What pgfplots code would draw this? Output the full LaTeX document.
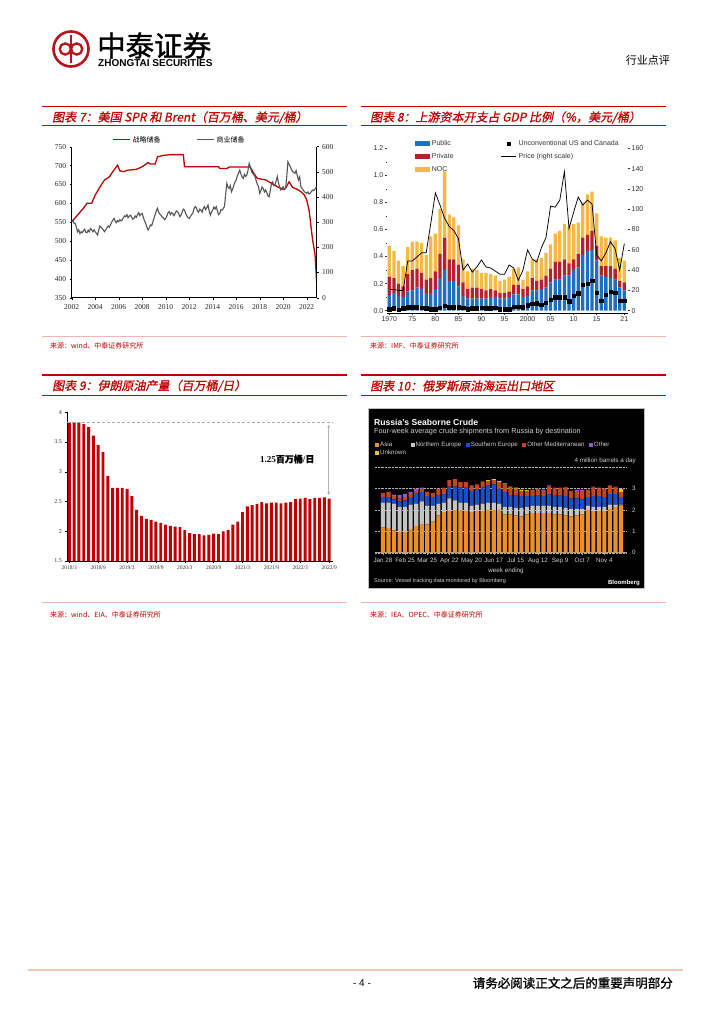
\documentclass[border=0pt]{standalone}
\usepackage{fontspec}
\setmainfont{Liberation Sans}
\newfontfamily\cjk{Noto Sans CJK SC}
\newfontfamily\cjkt[FakeSlant=0.2,FakeBold=0.8]{Noto Sans CJK SC}
\newfontfamily\cjkb[FakeBold=1.2]{Noto Sans CJK SC}
\newfontfamily\tms{Liberation Serif}
\usepackage{pgfplots}
\usepackage{pgfplotstable}
\pgfplotsset{compat=1.18,/pgf/number format/assume math mode=true}
\usetikzlibrary{arrows.meta}
\definecolor{ztred}{HTML}{C00000}
\definecolor{ztlogo}{HTML}{B8141C}
\definecolor{srcline}{HTML}{F0B4B4}
\definecolor{footline}{HTML}{F0C8B2}
\definecolor{grayline}{HTML}{555555}
\definecolor{pubblue}{HTML}{1F6EC0}
\definecolor{privred}{HTML}{B5202E}
\definecolor{nocyel}{HTML}{F4B942}
\definecolor{bAsia}{HTML}{E8902E}
\definecolor{bNE}{HTML}{C4C4C4}
\definecolor{bSE}{HTML}{1A4FC8}
\definecolor{bOM}{HTML}{C4461E}
\definecolor{bOth}{HTML}{9457C8}
\definecolor{bUnk}{HTML}{E3C52B}
\definecolor{bText}{HTML}{D0D0D0}
\newcommand{\fs}[1]{\fontsize{#1}{#1}\selectfont}

\pgfplotstableread[row sep=\\]{
t v\\
2002.0 551\\ 2002.5 569\\ 2003.0 587\\ 2003.3 600\\ 2003.7 600\\ 2004.0 622\\ 2004.5 648\\ 2004.8 662\\
2005.2 670\\ 2005.5 684\\ 2005.8 697\\ 2005.9 701\\ 2006.1 686\\ 2006.4 684\\ 2006.8 688\\ 2007.5 690\\
2008.0 697\\ 2008.5 708\\ 2008.7 704\\ 2009.1 704\\ 2009.3 723\\ 2009.8 727\\ 2010.5 729\\ 2011.5 729\\
2011.6 697\\ 2014.5 697\\ 2014.6 692\\ 2015.2 692\\ 2015.4 696\\ 2017.2 696\\ 2017.5 679\\ 2017.8 666\\
2018.5 662\\ 2019.0 653\\ 2019.5 644\\ 2020.0 637\\ 2020.2 640\\ 2020.5 657\\ 2020.8 642\\ 2021.2 637\\
2021.5 631\\ 2021.8 622\\ 2022.0 609\\ 2022.2 582\\ 2022.5 503\\ 2022.7 467\\ 2022.85 390\\
}\spr

\pgfplotstableread[row sep=\\]{
t v\\
2002.0 302\\ 2002.1 308\\ 2002.2 296\\ 2002.3 295\\ 2002.4 280\\ 2002.5 262\\ 2002.6 270\\ 2002.7 255\\ 2002.8 262\\ 2002.9 258\\
2003.0 266\\ 2003.1 272\\ 2003.2 260\\ 2003.3 258\\ 2003.4 268\\ 2003.5 262\\ 2003.6 275\\ 2003.7 270\\ 2003.8 262\\ 2003.9 270\\
2004.0 262\\ 2004.1 256\\ 2004.2 249\\ 2004.3 268\\ 2004.4 285\\ 2004.5 280\\ 2004.6 275\\ 2004.7 268\\ 2004.8 262\\ 2004.9 270\\
2005.0 278\\ 2005.1 285\\ 2005.2 280\\ 2005.3 289\\ 2005.4 300\\ 2005.5 308\\ 2005.6 315\\ 2005.7 305\\ 2005.8 298\\ 2005.9 306\\
2006.0 302\\ 2006.1 310\\ 2006.2 305\\ 2006.3 309\\ 2006.4 318\\ 2006.5 325\\ 2006.6 322\\ 2006.7 330\\ 2006.8 318\\ 2006.9 324\\
2007.0 328\\ 2007.1 320\\ 2007.2 312\\ 2007.3 315\\ 2007.4 325\\ 2007.5 319\\ 2007.6 330\\ 2007.7 338\\ 2007.8 326\\ 2007.9 332\\
2008.0 335\\ 2008.1 318\\ 2008.2 305\\ 2008.3 295\\ 2008.4 280\\ 2008.5 269\\ 2008.6 278\\ 2008.7 289\\ 2008.8 286\\ 2008.9 300\\
2009.0 315\\ 2009.1 330\\ 2009.2 345\\ 2009.3 355\\ 2009.4 340\\ 2009.5 332\\ 2009.6 328\\ 2009.7 320\\ 2009.8 318\\ 2009.9 310\\
2010.0 315\\ 2010.1 325\\ 2010.2 338\\ 2010.3 342\\ 2010.4 330\\ 2010.5 338\\ 2010.6 335\\ 2010.7 326\\ 2010.8 335\\ 2010.9 345\\
2011.0 342\\ 2011.1 335\\ 2011.2 322\\ 2011.3 328\\ 2011.4 340\\ 2011.5 352\\ 2011.6 348\\ 2011.7 335\\ 2011.8 325\\ 2011.9 318\\
2012.0 315\\ 2012.1 322\\ 2012.2 330\\ 2012.3 335\\ 2012.4 352\\ 2012.5 362\\ 2012.6 358\\ 2012.7 345\\ 2012.8 340\\ 2012.9 352\\
2013.0 348\\ 2013.1 340\\ 2013.2 355\\ 2013.3 362\\ 2013.4 350\\ 2013.5 358\\ 2013.6 368\\ 2013.7 345\\ 2013.8 328\\ 2013.9 340\\
2014.0 348\\ 2014.1 360\\ 2014.2 352\\ 2014.3 362\\ 2014.4 345\\ 2014.5 330\\ 2014.6 335\\ 2014.7 350\\ 2014.8 348\\ 2014.9 355\\
2015.0 362\\ 2015.1 410\\ 2015.2 454\\ 2015.3 440\\ 2015.4 434\\ 2015.5 445\\ 2015.6 421\\ 2015.7 432\\ 2015.8 448\\ 2015.9 460\\
2016.0 468\\ 2016.1 485\\ 2016.2 495\\ 2016.3 507\\ 2016.4 492\\ 2016.5 480\\ 2016.6 474\\ 2016.7 490\\ 2016.8 482\\ 2016.9 487\\
2017.0 505\\ 2017.1 534\\ 2017.2 520\\ 2017.3 501\\ 2017.4 495\\ 2017.5 488\\ 2017.6 481\\ 2017.7 465\\ 2017.8 450\\ 2017.9 441\\
2018.0 415\\ 2018.1 425\\ 2018.2 440\\ 2018.3 434\\ 2018.4 420\\ 2018.5 428\\ 2018.6 418\\ 2018.7 405\\ 2018.8 401\\ 2018.9 425\\
2019.0 454\\ 2019.1 460\\ 2019.2 445\\ 2019.3 448\\ 2019.4 465\\ 2019.5 481\\ 2019.6 455\\ 2019.7 440\\ 2019.8 428\\ 2019.9 435\\
2020.0 441\\ 2020.1 430\\ 2020.2 434\\ 2020.3 480\\ 2020.4 540\\ 2020.5 530\\ 2020.6 521\\ 2020.7 510\\ 2020.8 501\\ 2020.9 498\\
2021.0 494\\ 2021.1 505\\ 2021.2 485\\ 2021.3 468\\ 2021.4 480\\ 2021.5 441\\ 2021.6 435\\ 2021.7 428\\ 2021.8 421\\ 2021.9 418\\
2022.0 415\\ 2022.1 420\\ 2022.2 412\\ 2022.3 415\\ 2022.4 422\\ 2022.5 428\\ 2022.6 425\\ 2022.7 432\\ 2022.8 438\\ 2022.85 441\\
}\brent

\pgfplotstableread{
year pub priv noc unc price
1970 0.115 0.135 0.23 0.010 21
1971 0.13 0.11 0.20 0.017 21
1972 0.11 0.09 0.17 0.008 20
1973 0.10 0.08 0.15 0.017 20
1974 0.14 0.13 0.20 0.025 49
1975 0.15 0.15 0.21 0.025 49
1976 0.17 0.14 0.20 0.025 53
1977 0.16 0.12 0.22 0.020 57
1978 0.13 0.10 0.18 0.017 57
1979 0.13 0.11 0.31 0.010 86
1980 0.16 0.13 0.28 0.012 116
1981 0.24 0.18 0.33 0.020 104
1982 0.30 0.24 0.49 0.035 91
1983 0.22 0.16 0.33 0.027 83
1984 0.22 0.16 0.31 0.025 79
1985 0.18 0.16 0.29 0.025 71
1986 0.11 0.10 0.17 0.020 40
1987 0.09 0.07 0.13 0.012 46
1988 0.09 0.08 0.14 0.017 38
1989 0.09 0.08 0.13 0.017 43
1990 0.09 0.07 0.12 0.020 50
1991 0.09 0.06 0.13 0.017 43
1992 0.10 0.06 0.11 0.017 42
1993 0.10 0.05 0.11 0.020 39
1994 0.09 0.04 0.09 0.010 36
1995 0.09 0.04 0.10 0.010 36
1996 0.10 0.04 0.11 0.010 45
1997 0.12 0.07 0.12 0.030 42
1998 0.12 0.07 0.13 0.030 30
1999 0.10 0.06 0.07 0.025 40
2000 0.11 0.07 0.11 0.040 60
2001 0.15 0.09 0.14 0.050 51
2002 0.15 0.07 0.16 0.055 48
2003 0.16 0.07 0.16 0.045 62
2004 0.17 0.09 0.17 0.060 72
2005 0.21 0.10 0.18 0.080 103
2006 0.23 0.13 0.21 0.100 102
2007 0.23 0.13 0.23 0.100 109
2008 0.26 0.12 0.26 0.100 137
2009 0.26 0.09 0.27 0.070 81
2010 0.30 0.08 0.26 0.110 97
2011 0.32 0.10 0.23 0.130 112
2012 0.41 0.13 0.26 0.190 104
2013 0.44 0.12 0.30 0.200 109
2014 0.45 0.14 0.29 0.220 105
2015 0.37 0.11 0.24 0.135 55
2016 0.26 0.07 0.22 0.074 49
2017 0.25 0.08 0.21 0.116 57
2018 0.24 0.09 0.21 0.140 68
2019 0.23 0.08 0.21 0.135 61
2020 0.17 0.05 0.17 0.074 40
2021 0.15 0.06 0.16 0.074 66
}\capex

\pgfplotstableread[row sep=\\]{
i v\\
0 3.83\\ 1 3.83\\ 2 3.83\\ 3 3.80\\ 4 3.75\\ 5 3.61\\ 6 3.45\\ 7 3.33\\ 8 2.93\\ 9 2.73\\
10 2.73\\ 11 2.73\\ 12 2.71\\ 13 2.59\\ 14 2.36\\ 15 2.26\\ 16 2.21\\ 17 2.19\\ 18 2.16\\ 19 2.14\\
20 2.11\\ 21 2.09\\ 22 2.08\\ 23 2.07\\ 24 2.02\\ 25 1.97\\ 26 1.95\\ 27 1.95\\ 28 1.93\\ 29 1.94\\
30 1.96\\ 31 1.95\\ 32 2.00\\ 33 2.02\\ 34 2.11\\ 35 2.16\\ 36 2.32\\ 37 2.42\\ 38 2.44\\ 39 2.46\\
40 2.49\\ 41 2.47\\ 42 2.48\\ 43 2.48\\ 44 2.47\\ 45 2.48\\ 46 2.49\\ 47 2.54\\ 48 2.55\\ 49 2.56\\
50 2.54\\ 51 2.56\\ 52 2.56\\ 53 2.57\\ 54 2.55\\
}\iran

\pgfplotstableread{
i asia ne se om oth unk
0 1.17 1.18 0.26 0.19 0 0
1 1.15 1.20 0.25 0.25 0 0
2 1.05 1.25 0.20 0.15 0.07 0
3 0.97 1.18 0.25 0.15 0.15 0
4 0.98 1.17 0.30 0.15 0.15 0
5 1.10 1.15 0.35 0.15 0.10 0
6 1.25 1.05 0.50 0.10 0.10 0
7 1.35 1.05 0.45 0.15 0.05 0
8 1.33 0.87 0.45 0.20 0 0
9 1.45 0.75 0.40 0.20 0 0
10 1.75 0.55 0.40 0.30 0 0
11 1.90 0.45 0.40 0.30 0 0
12 1.95 0.60 0.55 0.30 0 0
13 2.00 0.45 0.65 0.35 0 0
14 2.00 0.35 0.70 0.25 0 0
15 1.95 0.40 0.70 0.25 0 0
16 1.90 0.30 0.70 0.25 0 0
17 1.95 0.30 0.70 0.25 0 0
18 1.95 0.35 0.75 0.25 0 0.03
19 2.00 0.35 0.80 0.20 0 0.05
20 2.00 0.35 0.85 0.20 0 0.05
21 2.00 0.30 0.70 0.30 0 0.05
22 1.80 0.35 0.70 0.35 0 0.05
23 1.80 0.35 0.55 0.35 0 0.05
24 1.75 0.35 0.60 0.30 0 0.05
25 1.70 0.40 0.55 0.25 0 0.05
26 1.80 0.35 0.50 0.25 0 0.03
27 1.85 0.35 0.45 0.30 0 0
28 1.85 0.35 0.50 0.30 0 0
29 1.85 0.35 0.45 0.25 0.05 0
30 1.85 0.35 0.55 0.35 0.05 0
31 1.80 0.35 0.55 0.35 0 0
32 1.80 0.35 0.55 0.35 0 0
33 1.75 0.35 0.55 0.40 0.03 0
34 1.70 0.35 0.50 0.35 0 0
35 1.75 0.30 0.50 0.35 0.05 0
36 1.80 0.25 0.45 0.40 0.05 0
37 2.00 0.20 0.40 0.35 0 0
38 1.95 0.20 0.50 0.40 0.05 0
39 1.95 0.20 0.50 0.35 0.05 0
40 1.95 0.20 0.45 0.40 0 0
41 2.05 0.20 0.50 0.40 0 0
42 2.15 0.10 0.50 0.30 0.05 0
43 2.20 0.05 0.35 0.25 0 0.13
}\russia

\begin{document}
\begin{tikzpicture}[x=1pt,y=1pt]
\useasboundingbox (0pt,0pt) rectangle (724pt,-1024pt);
\fill[white] (0pt,0pt) rectangle (724pt,-1024pt);

% ---------- header ----------
\draw[ztlogo, line width=2.6pt] (71,-49) circle (17.5pt);
\draw[ztlogo, line width=2.3pt] (71,-35) -- (71,-63);
\draw[ztlogo, line width=2.3pt] (65.3,-49) circle (5.6pt);
\draw[ztlogo, line width=2.3pt] (76.7,-49) circle (5.6pt);
\node[anchor=west, inner sep=0, font=\cjkb\fs{28.5}] at (97,-45.5) {中泰证券};
\node[anchor=west, inner sep=0, font=\bfseries\fs{10}] at (98,-63.5) {ZHONGTAI SECURITIES};
\node[anchor=east, inner sep=0, font=\cjk\fs{11}] at (670,-60) {行业点评};

% ---------- panel titles ----------
\draw[ztred, line width=1.2pt] (42,-106.7) -- (347,-106.7);
\node[anchor=west, inner sep=0, text=ztred, font=\cjkt\fs{12}] at (52,-117.5) {图表 7：美国 SPR 和 Brent（百万桶、美元/桶）};
\draw[ztred, line width=0.6pt] (42,-125.5) -- (347,-125.5);

\draw[ztred, line width=1.2pt] (361,-106.7) -- (666,-106.7);
\node[anchor=west, inner sep=0, text=ztred, font=\cjkt\fs{12}] at (370,-117.5) {图表 8：上游资本开支占 GDP 比例（\%，美元/桶）};
\draw[ztred, line width=0.6pt] (361,-125.5) -- (666,-125.5);

\draw[ztred, line width=1.2pt] (42,-375) -- (347,-375);
\node[anchor=west, inner sep=0, text=ztred, font=\cjkt\fs{12}] at (52,-386) {图表 9：伊朗原油产量（百万桶/日）};
\draw[ztred, line width=0.6pt] (42,-395) -- (347,-395);

\draw[ztred, line width=1.2pt] (361,-375) -- (666,-375);
\node[anchor=west, inner sep=0, text=ztred, font=\cjkt\fs{12}] at (370,-386) {图表 10：俄罗斯原油海运出口地区};
\draw[ztred, line width=0.6pt] (361,-395) -- (666,-395);

% ---------- sources ----------
\draw[srcline, line width=0.8pt] (42,-336) -- (347,-336);
\node[anchor=west, inner sep=0, text=ztred, font=\cjk\fs{7}] at (50,-346) {来源：wind、中泰证券研究所};
\draw[srcline, line width=0.8pt] (361,-336) -- (666,-336);
\node[anchor=west, inner sep=0, text=ztred, font=\cjk\fs{7}] at (370,-346) {来源：IMF、中泰证券研究所};
\draw[srcline, line width=0.8pt] (42,-602.5) -- (347,-602.5);
\node[anchor=west, inner sep=0, text=ztred, font=\cjk\fs{7}] at (50,-615) {来源：wind、EIA、中泰证券研究所};
\draw[srcline, line width=0.8pt] (361,-602.5) -- (666,-602.5);
\node[anchor=west, inner sep=0, text=ztred, font=\cjk\fs{7}] at (370,-615) {来源：IEA、OPEC、中泰证券研究所};

% ---------- footer ----------
\draw[footline, line width=1.3pt] (28,-970) -- (683,-970);
\node[inner sep=0, font=\fs{10}] at (362,-983) {- 4 -};
\node[anchor=east, inner sep=0, font=\cjkb\fs{12.5}] at (673,-983) {请务必阅读正文之后的重要声明部分};

% ================= Chart 7 =================
\begin{axis}[
  at={(71.7pt,-297.7pt)}, anchor=south west, scale only axis,
  width=245pt, height=151pt,
  xmin=2002, xmax=2022.85, ymin=350, ymax=750, enlargelimits=false,
  axis x line*=bottom, axis y line*=left,
  axis line style={black, line width=0.5pt},
  xtick={2002,2004,...,2022}, ytick={350,400,...,750},
  tick align=outside, major tick length=2pt, tick style={black, line width=0.4pt},
  tick label style={font=\tms\fs{7.5}, text=black!85},
  xticklabel style={yshift=-1.5pt},
  /pgf/number format/1000 sep={},
  legend columns=2,
  legend style={at={(0.44,1)}, anchor=south, draw=none, fill=none, font=\cjk\fs{7}, inner sep=1pt,
    /tikz/every even column/.append style={column sep=34pt}},
  legend image code/.code={\draw[#1] (0pt,0pt) -- (17pt,0pt);},
]
\addplot[ztred, line width=1.3pt] table[x=t,y=v] \spr;
\addlegendentry{战略储备}
\addlegendimage{grayline, line width=1.1pt}
\addlegendentry{商业储备}
\end{axis}
\begin{axis}[
  at={(71.7pt,-297.7pt)}, anchor=south west, scale only axis,
  width=245pt, height=151pt,
  xmin=2002, xmax=2022.85, ymin=0, ymax=600, enlargelimits=false,
  axis y line*=right, axis x line=none,
  axis line style={black, line width=0.5pt},
  ytick={0,100,...,600},
  tick align=outside, major tick length=2pt, tick style={black, line width=0.4pt},
  tick label style={font=\tms\fs{7.5}, text=black!85},
]
\addplot[grayline, line width=1.1pt] table[x=t,y=v] \brent;
\end{axis}

% ================= Chart 8 =================
\begin{axis}[
  at={(387pt,-313.4pt)}, anchor=south west, scale only axis,
  width=241pt, height=165.1pt,
  xmin=1969.5, xmax=2021.8, ymin=-0.02, ymax=1.2, enlargelimits=false,
  ybar stacked, bar width=3.3pt,
  axis x line*=bottom, axis y line*=left,
  x axis line style={black, line width=0.6pt},
  y axis line style={draw=none},
  xtick={1970,1975,1980,1985,1990,1995,2000,2005,2010,2015,2021},
  xticklabels={1970,75,80,85,90,95,2000,05,10,15,21},
  ytick={0,0.2,0.4,0.6,0.8,1.0,1.2},
  yticklabels={0.0,0.2,0.4,0.6,0.8,1.0,1.2},
  minor ytick={0.1,0.3,0.5,0.7,0.9,1.1},
  tick align=outside, major tick length=2pt, minor tick length=0.8pt,
  tick style={black!80, line width=0.5pt},
  tick label style={font=\fs{7}, text=black!80, inner sep=1.5pt},
  legend style={at={(0.115,1.062)}, anchor=north west, draw=none, fill=none, font=\fs{7},
    inner sep=0pt, row sep=2.6pt, text=black!80},
  legend cell align=left,
  legend image code/.code={\fill[#1] (0pt,-2.4pt) rectangle (15pt,2.4pt);},
]
\addplot[fill=pubblue, draw=none] table[x=year,y=pub] \capex;
\addlegendentry{Public}
\addplot[fill=privred, draw=none] table[x=year,y=priv] \capex;
\addlegendentry{Private}
\addplot[fill=nocyel, draw=none] table[x=year,y=noc] \capex;
\addlegendentry{NOC}
\end{axis}
\begin{axis}[
  at={(387pt,-313.4pt)}, anchor=south west, scale only axis,
  width=241pt, height=165.1pt,
  xmin=1969.5, xmax=2021.8, ymin=-0.02, ymax=1.2, enlargelimits=false,
  hide axis,
]
\addplot[only marks, mark=square*, mark size=1.7pt, black] table[x=year,y=unc] \capex;
\end{axis}
\begin{axis}[
  at={(387pt,-313.4pt)}, anchor=south west, scale only axis,
  width=241pt, height=165.1pt,
  xmin=1969.5, xmax=2021.8, ymin=-2.667, ymax=160, enlargelimits=false,
  axis y line*=right, axis x line=none,
  y axis line style={draw=none},
  ytick={0,20,...,160},
  tick align=outside, major tick length=2pt,
  tick style={black!80, line width=0.5pt},
  tick label style={font=\fs{7}, text=black!80, inner sep=1.5pt},
  legend style={at={(0.472,1.062)}, anchor=north west, draw=none, fill=none, font=\fs{7},
    inner sep=0pt, row sep=2.6pt, text=black!80},
  legend cell align=left,
  legend image code/.code={\draw[mark repeat=2,mark phase=2,#1] plot coordinates {(0pt,0pt) (7.5pt,0pt) (15pt,0pt)};},
]
\addlegendimage{only marks, mark=square*, mark size=1.7pt, black}
\addlegendentry{Unconventional US and Canada}
\addplot[black, line width=0.75pt] table[x=year,y=price] \capex;
\addlegendentry{Price (right scale)}
\end{axis}

% ================= Chart 9 =================
\begin{axis}[
  at={(66.9pt,-561pt)}, anchor=south west, scale only axis,
  width=266.1pt, height=148.7pt,
  xmin=-0.5, xmax=54.8, ymin=1.5, ymax=4, enlargelimits=false,
  axis x line*=bottom, axis y line*=left,
  axis line style={black, line width=0.6pt},
  xtick={0,6,...,54},
  xticklabels={2018/3,2018/9,2019/3,2019/9,2020/3,2020/9,2021/3,2021/9,2022/3,2022/9},
  ytick={1.5,2,2.5,3,3.5,4}, yticklabels={1.5,2,2.5,3,3.5,4},
  tick align=outside, major tick length=1.5pt, tick style={black, line width=0.4pt},
  tick label style={font=\tms\fs{6}, text=black!80},
  xticklabel style={font=\tms\fs{5.5}},
  clip=false,
]
\addplot[ybar, bar width=2.9pt, bar shift=0pt, fill=ztred, draw=none] table[x=i,y=v] \iran;
\addplot[densely dashed, color=gray!70, line width=0.6pt] coordinates {(-0.5,3.83) (54.8,3.83)};
\draw[{Latex[length=3.5pt,width=3pt]}-{Latex[length=3.5pt,width=3pt]}, gray!60, line width=0.8pt] (axis cs:53.9,3.80) -- (axis cs:53.9,2.60);
\node[inner sep=0, font=\fs{9}] at (axis cs:45.3,3.215) {\tms\bfseries 1.25\cjkb 百万桶\tms\bfseries /\cjkb 日};
\end{axis}

% ================= Chart 10 =================
\fill[black, draw=gray!50, line width=0.5pt] (368.3,-408.3) rectangle (644,-588.3);
\node[anchor=west, inner sep=0, text=white, font=\bfseries\fs{8.6}] at (374,-422.5) {Russia's Seaborne Crude};
\node[anchor=west, inner sep=0, text=bText, font=\fs{7.3}] at (374,-431.5) {Four-week average crude shipments from Russia by destination};
\node[anchor=east, inner sep=0, text=bText, font=\fs{6.3}] at (636,-460.7) {4 million barrels a day};
\node[inner sep=0, text=bText, font=\fs{6.3}] at (506,-570.7) {week ending};
\node[anchor=west, inner sep=0, text=bText, font=\fs{5.5}] at (374,-580.7) {Source: Vessel tracking data monitored by Bloomberg};
\node[anchor=east, inner sep=0, text=white, font=\bfseries\fs{6}] at (640,-583) {Bloomberg};
\begin{axis}[
  at={(375pt,-552.7pt)}, anchor=south west, scale only axis,
  width=251.7pt, height=85.4pt,
  xmin=-1.445, xmax=44.03, ymin=0, ymax=4, enlargelimits=false,
  ybar stacked, bar width=4.1pt,
  axis x line*=bottom, axis y line*=right,
  x axis line style={color=gray!70, line width=0.5pt},
  y axis line style={draw=none},
  xtick={0,4,...,40},
  xticklabels={Jan 28,Feb 25,Mar 25,Apr 22,May 20,Jun 17,Jul 15,Aug 12,Sep 9,Oct 7,Nov 4},
  ytick={0,1,2,3,4}, yticklabels={0,1,2,3,{}},
  ymajorgrids, grid style={densely dotted, gray!60, line width=0.4pt},
  tick align=outside, major tick length=2pt,
  xtick style={gray!70, line width=0.4pt}, ytick style={draw=none},
  tick label style={font=\fs{6.3}, text=bText},
  legend columns=5,
  legend style={at={(0,1.314)}, anchor=north west, draw=none, fill=none, font=\fs{6.2},
    text=bText, inner sep=0pt, row sep=0.6pt, column sep=0pt,
    nodes={inner sep=1pt},
    /tikz/every even column/.append style={column sep=3.5pt}},
  legend cell align=left,
  legend image code/.code={\fill[#1] (0pt,-2pt) rectangle (4pt,2pt);},
]
\addplot[fill=bAsia, draw=none] table[x=i,y=asia] \russia;
\addlegendentry{Asia}
\addplot[fill=bNE, draw=none] table[x=i,y=ne] \russia;
\addlegendentry{Northern Europe}
\addplot[fill=bSE, draw=none] table[x=i,y=se] \russia;
\addlegendentry{Southern Europe}
\addplot[fill=bOM, draw=none] table[x=i,y=om] \russia;
\addlegendentry{Other Mediterranean}
\addplot[fill=bOth, draw=none] table[x=i,y=oth] \russia;
\addlegendentry{Other}
\addplot[fill=bUnk, draw=none] table[x=i,y=unk] \russia;
\addlegendentry{Unknown}
\end{axis}
\end{tikzpicture}
\end{document}
